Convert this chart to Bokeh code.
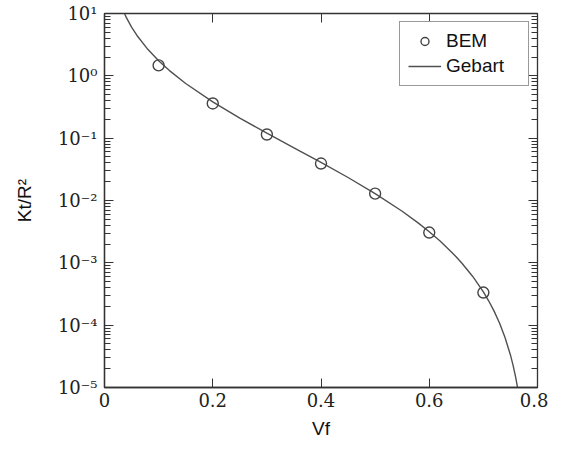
from bokeh.plotting import figure
from bokeh.models import (LinearAxis, LogAxis, FixedTicker, CustomJSTickFormatter,
                          Legend, LegendItem, Range1d)
from bokeh.embed import file_html
from bokeh.resources import INLINE

# BEM results
bem_vf = [0.1, 0.2, 0.3, 0.4, 0.5, 0.6, 0.7]
bem_k = [1.47, 0.36, 0.1145, 0.0392, 0.0129, 0.00306, 0.000334]

# Gebart curve
geb_vf = [0.03, 0.04, 0.05, 0.06, 0.08, 0.10, 0.12, 0.15, 0.20, 0.25, 0.30, 0.35,
          0.40, 0.45, 0.50, 0.55, 0.58, 0.60, 0.62, 0.64, 0.65, 0.66, 0.68, 0.70,
          0.71, 0.72, 0.73, 0.74, 0.75, 0.755, 0.76, 0.765]
geb_k = [13.76, 8.72, 6.05, 4.44, 2.66, 1.745, 1.213, 0.754, 0.382, 0.2099, 0.1201, 0.0700,
         0.0408, 0.02338, 0.01292, 0.00672, 0.004336, 0.003154, 0.002233, 0.001526, 0.001241,
         0.000996, 0.000610, 0.000342, 0.000244, 0.0001665, 0.0001072, 6.35e-5, 3.33e-5,
         2.24e-5, 1.41e-5, 8.07e-6]

x_ticks = [0, 0.2, 0.4, 0.6, 0.8]
y_ticks = [1e-5, 1e-4, 1e-3, 1e-2, 1e-1, 1e0, 1e1]
y_minor = [m * t for t in y_ticks[:-1] for m in range(2, 10)]

AX = "#333333"
LINE = "#505050"

p = figure(width=548, height=442, y_axis_type="log",
           x_range=Range1d(0, 0.8), y_range=Range1d(1e-5, 1e1),
           output_backend="svg", toolbar_location=None,
           min_border_left=104, min_border_right=11, min_border_top=13, min_border_bottom=55)
p.grid.visible = False
p.background_fill_color = "white"
p.border_fill_color = "white"
p.outline_line_color = AX
p.outline_line_width = 1.3

fmt = CustomJSTickFormatter(code="""
const sup = {'-':'\u207b','0':'\u2070','1':'\u00b9','2':'\u00b2','3':'\u00b3','4':'\u2074','5':'\u2075','6':'\u2076','7':'\u2077','8':'\u2078','9':'\u2079'};
const e = Math.round(Math.log10(tick));
return '10' + String(e).split('').map(c => sup[c]).join('');
""")

xa = p.xaxis[0]
xa.ticker = FixedTicker(ticks=x_ticks, minor_ticks=[])
xa.axis_label = "Vf"
ya = p.yaxis[0]
ya.ticker = FixedTicker(ticks=y_ticks, minor_ticks=y_minor)
ya.formatter = fmt
ya.axis_label = "Kt/R\u00b2"

for ax in (xa, ya):
    ax.major_tick_in = 9
    ax.major_tick_out = 0
    ax.minor_tick_in = 6
    ax.minor_tick_out = 0
    ax.axis_line_color = AX
    ax.axis_line_width = 1.3
    ax.major_tick_line_color = AX
    ax.minor_tick_line_color = AX
    ax.major_label_text_font = "DejaVu Serif"
    ax.major_label_text_font_size = "18px"
    ax.major_label_text_color = "#222222"
    ax.axis_label_text_font = "Liberation Sans"
    ax.axis_label_text_font_style = "normal"
    ax.axis_label_text_font_size = "19px"
    ax.axis_label_text_color = "#111111"
xa.major_label_standoff = 5
xa.axis_label_standoff = 8
ya.major_label_standoff = 7
ya.axis_label_standoff = 20

blank = CustomJSTickFormatter(code="return '';")
top = LinearAxis(ticker=FixedTicker(ticks=x_ticks, minor_ticks=[]), formatter=blank)
right = LogAxis(ticker=FixedTicker(ticks=y_ticks, minor_ticks=y_minor), formatter=blank)
for ax in (top, right):
    ax.major_tick_in = 9
    ax.major_tick_out = 0
    ax.minor_tick_in = 6
    ax.minor_tick_out = 0
    ax.major_label_standoff = 0
    ax.axis_line_color = AX
    ax.major_tick_line_color = AX
    ax.minor_tick_line_color = AX
p.add_layout(top, "above")
p.add_layout(right, "right")

r_line = p.line(geb_vf, geb_k, line_color=LINE, line_width=1.4)
r_pts = p.scatter(bem_vf, bem_k, marker="circle", size=11, fill_color=None,
                  line_color="#444444", line_width=1.4)

legend = Legend(items=[LegendItem(label="BEM", renderers=[r_pts]),
                       LegendItem(label="Gebart", renderers=[r_line])],
                location="top_right", margin=8, padding=8, spacing=3,
                label_text_font="Liberation Sans", label_text_font_size="19px",
                label_text_color="#111111", glyph_width=33, label_standoff=5,
                label_height=22, label_width=74,
                border_line_color=AX, border_line_width=1.3, background_fill_alpha=1)
p.add_layout(legend, "center")

open("out.html", "w").write(file_html(p, INLINE))
